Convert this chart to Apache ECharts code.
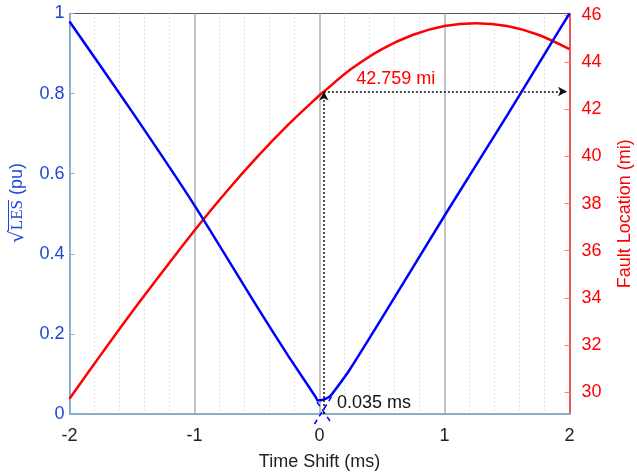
<!DOCTYPE html>
<html><head><meta charset="utf-8">
<script src="https://cdn.jsdelivr.net/npm/echarts@6/dist/echarts.min.js"></script>
<style>html,body{margin:0;padding:0;background:#fff}#c{width:637px;height:472px}</style>
</head><body><div id="c"></div>
<script>
// ---- data ----
var xTicks = [-2, -1, 0, 1, 2];
var leftTicks = [0, 0.2, 0.4, 0.6, 0.8, 1];
var rightTicks = [30, 32, 34, 36, 38, 40, 42, 44, 46];

var lesTime = [-2, -1.5, -1, -0.5, -0.25, -0.1, -0.03, -0.016, 0.03, 0.08, 0.12, 0.24, 0.5, 1, 1.5, 1.864, 2];
var lesVal  = [0.98, 0.755, 0.521, 0.268, 0.145, 0.075, 0.042, 0.034, 0.036, 0.043, 0.058, 0.11, 0.24, 0.495, 0.745, 0.931, 1.0];

var locTime = [-2, -1.75, -1.5, -1.25, -1, -0.75, -0.5, -0.25, 0, 0.035, 0.25, 0.5, 0.75, 1, 1.25, 1.5, 1.75, 2];
var locVal  = [29.72, 31.58, 33.4, 35.15, 36.86, 38.47, 39.97, 41.35, 42.6, 42.759, 43.7, 44.56, 45.17, 45.54, 45.66, 45.54, 45.17, 44.56];

var asymRiseTime = [-0.04, 0.1];
var asymRiseVal  = [-0.025, 0.045];
var asymFallTime = [-0.02, 0.1];
var asymFallVal  = [0.03, -0.025];

var markerTime = 0.035;
var markerLoc = 42.759;

function zip(a, b) { return a.map(function (v, i) { return [v, b[i]]; }); }

var BLUE = '#0000ff', RED = '#ff0000', LBLUE = '#1f45d8';
var FONT = 'Liberation Sans, Arial, sans-serif';
var SERIF = 'Liberation Serif, Times New Roman, serif';
var FS = 18;

// measure pieces of the left axis title
var ctx = document.createElement('canvas').getContext('2d');
function tw(t, f) { ctx.font = f; return ctx.measureText(t).width; }
var wR = tw('\u221A', '20px DejaVu Serif');
var wL = tw('LES', '17px ' + SERIF);
var wP = tw(' (pu)', FS + 'px ' + FONT);
var W = wR + wL + wP;
var x0 = -W / 2;

var chart = echarts.init(document.getElementById('c'));
chart.setOption({
  animation: false,
  backgroundColor: '#fff',
  grid: { left: 69.5, right: 67.5, top: 13.5, bottom: 58, outerBoundsMode: 'none', containLabel: false,
    show: true, borderColor: '#555', borderWidth: 1, backgroundColor: 'transparent' },
  graphic: [{
    type: 'group', x: 17, y: 203, rotation: Math.PI / 2,
    children: [
      { type: 'text', x: x0, y: 1, style: { text: '\u221A', font: '20px DejaVu Serif', fill: LBLUE, verticalAlign: 'middle', align: 'left' } },
      { type: 'text', x: x0 + wR, y: 1, style: { text: 'LES', font: '17px ' + SERIF, fill: LBLUE, verticalAlign: 'middle', align: 'left' } },
      { type: 'line', shape: { x1: x0 + wR - 1, y1: -8.5, x2: x0 + wR + wL, y2: -8.5 }, style: { stroke: LBLUE, lineWidth: 1 } },
      { type: 'text', x: x0 + wR + wL, y: 0, style: { text: ' (pu)', font: FS + 'px ' + FONT, fill: LBLUE, verticalAlign: 'middle', align: 'left' } }
    ]
  }],
  xAxis: {
    type: 'value', min: -2, max: 2, interval: 1,
    name: 'Time Shift (ms)', nameLocation: 'middle', nameGap: 39,
    nameTextStyle: { color: '#222', fontSize: FS, fontFamily: FONT },
    axisLine: { show: true, onZero: false, lineStyle: { color: '#7fb0d8', width: 1.5 } },
    axisTick: { show: false },
    axisLabel: { color: '#222', fontSize: FS, fontFamily: FONT, margin: 13, customValues: xTicks },
    splitLine: { show: true, lineStyle: { color: '#b0b0b0', width: 1.5 } },
    minorTick: { show: false, splitNumber: 5 },
    minorSplitLine: { show: true, lineStyle: { color: '#c8c8c8', width: 1, type: [1, 3] } }
  },
  yAxis: [{
    type: 'value', min: 0, max: 1, interval: 0.2, position: 'left',
    axisLine: { show: true, onZero: false, lineStyle: { color: '#7fb0d8', width: 1.5 } },
    axisTick: { show: true, inside: true, length: 5, lineStyle: { color: '#7fb0d8' } },
    axisLabel: { color: LBLUE, fontSize: FS, fontFamily: FONT, margin: 5, customValues: leftTicks, formatter: function (v) { return String(+v.toFixed(1)); } },
    splitLine: { show: false }
  }, {
    type: 'value', min: 29.07, max: 46.07, position: 'right',
    name: 'Fault Location (mi)', nameLocation: 'middle', nameGap: 47, nameRotate: 90,
    nameTextStyle: { color: RED, fontSize: FS, fontFamily: FONT },
    axisLine: { show: true, onZero: false, lineStyle: { color: '#ff3b3b', width: 1.5 } },
    axisTick: { show: true, inside: true, length: 5, customValues: rightTicks, lineStyle: { color: '#ff8080' } },
    axisLabel: { color: RED, fontSize: FS, fontFamily: FONT, margin: 12, customValues: rightTicks },
    splitLine: { show: false }
  }],
  series: [{
    type: 'line', yAxisIndex: 1, data: zip(locTime, locVal), smooth: 0.3, showSymbol: false,
    lineStyle: { color: RED, width: 2.5 }, z: 3,
    markLine: {
      silent: true, symbol: ['none', 'arrow'], symbolSize: [7, 9],
      lineStyle: { color: '#111', type: [2, 2], width: 1.5 },
      label: { show: false },
      data: [
        [{ coord: [markerTime, 29.07] }, { coord: [markerTime, markerLoc] }],
        [{ coord: [markerTime, markerLoc] }, { coord: [1.98, markerLoc] }]
      ]
    },
    markPoint: {
      silent: true, symbolSize: 0,
      data: [{ coord: [0.61, 43.3], label: { show: true, position: 'inside', formatter: markerLoc + ' mi', color: RED, fontSize: FS, fontFamily: FONT } }]
    }
  }, {
    type: 'line', yAxisIndex: 0, data: zip(lesTime, lesVal), smooth: 0.2, showSymbol: false,
    lineStyle: { color: BLUE, width: 2.5 }, z: 4,
    markPoint: {
      silent: true, symbolSize: 0,
      data: [{ coord: [0.14, 0.028], label: { show: true, position: 'right', distance: 0, formatter: markerTime + ' ms', color: '#111', fontSize: FS, fontFamily: FONT } }]
    }
  }, {
    type: 'line', yAxisIndex: 0, data: zip(asymRiseTime, asymRiseVal), clip: false, showSymbol: false,
    lineStyle: { color: BLUE, width: 1.5, type: [5, 4] }, z: 4
  }, {
    type: 'line', yAxisIndex: 0, data: zip(asymFallTime, asymFallVal), clip: false, showSymbol: false,
    lineStyle: { color: BLUE, width: 1.5, type: [5, 4] }, z: 4
  }]
});
</script></body></html>
